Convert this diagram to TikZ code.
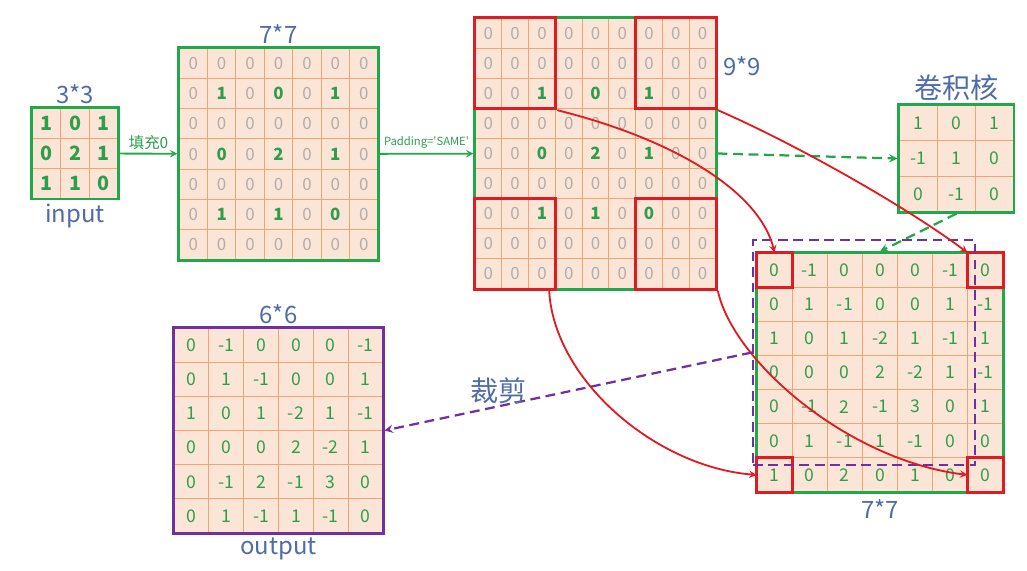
\documentclass[tikz,border=0pt]{standalone}
\usepackage{fontspec}
\setmainfont{Noto Sans CJK SC}
\usepackage{xcolor}
\usetikzlibrary{arrows,positioning,calc,fit}

\definecolor{cellfill}{HTML}{FBE5D6}
\definecolor{gridorange}{HTML}{F2A571}
\definecolor{matgreen}{HTML}{22A84A}
\definecolor{numgreen}{HTML}{2E9E4E}
\definecolor{zerogray}{HTML}{B3ACAC}
\definecolor{dimblue}{HTML}{4F6CA8}
\definecolor{cutred}{HTML}{E01B22}
\definecolor{cropviolet}{HTML}{7030A0}

\def\zmark{z}
\def\pxu{0.025cm}

% one matrix of cells: name, left, top, cell width, cell height, number style, rows (z = grey padding zero)
\newcommand{\cellgrid}[7]{%
  \foreach \row [count=\i] in {#7} {
    \foreach \v [count=\j] in \row {
      \edef\cellv{\v}
      \ifx\cellv\zmark
        \node[cell, zero, minimum width=#4*\pxu, minimum height=#5*\pxu] (#1-\i-\j) at ({#2+(\j-0.5)*#4}, {#3+(\i-0.5)*#5}) {0};
      \else
        \node[cell, #6, minimum width=#4*\pxu, minimum height=#5*\pxu] (#1-\i-\j) at ({#2+(\j-0.5)*#4}, {#3+(\i-0.5)*#5}) {\v};
      \fi
    }
  }
}

\begin{document}
\begin{tikzpicture}[
    x=0.025cm, y=-0.025cm,
    cell/.style={rectangle, draw=gridorange, line width=0.6pt, fill=cellfill, inner sep=0pt},
    zero/.style={text=zerogray, font=\fontsize{12}{12}\selectfont},
    boldnum/.style={text=numgreen, font=\fontsize{12}{12}\selectfont\bfseries},
    bignum/.style={text=numgreen, font=\fontsize{14}{14}\selectfont\bfseries},
    plainnum/.style={text=numgreen, font=\fontsize{12.5}{12.5}\selectfont},
    frame/.style={draw=matgreen, line width=1.6pt, inner sep=0pt},
    redbox/.style={draw=cutred, line width=2pt, inner sep=0pt},
    dim/.style={text=dimblue, font=\fontsize{17}{20}\selectfont, inner sep=1pt},
    cnlabel/.style={text=dimblue, font=\fontsize{20}{22}\selectfont, inner sep=1pt},
    flow/.style={->, >=stealth, draw=matgreen, line width=1.3pt},
    kernelflow/.style={->, >=stealth, draw=matgreen, line width=1.6pt, dash pattern=on 7pt off 4pt},
    cut/.style={->, >=stealth, draw=cutred, line width=1.3pt},
    crop/.style={->, >=stealth, draw=cropviolet, line width=1.6pt, dash pattern=on 7pt off 4pt}
]
\useasboundingbox (0,0) rectangle (1027,571);

% Input 3*3
\cellgrid{in}{32}{108}{28.7}{30.3}{bignum}{{1,0,1},{0,2,1},{1,1,0}}
\node[frame, fit=(in-1-1)(in-3-3)] (in) {};
\node[dim, above=1pt of in] (dimin) {3*3};
\node[dim, below=1pt of in] (inlabel) {input};

% Zero padded 7*7
\cellgrid{pad7}{179}{48}{28.43}{30.29}{boldnum}{%
  {z,z,z,z,z,z,z},{z,1,z,0,z,1,z},{z,z,z,z,z,z,z},{z,0,z,2,z,1,z},%
  {z,z,z,z,z,z,z},{z,1,z,1,z,0,z},{z,z,z,z,z,z,z}}
\node[frame, fit=(pad7-1-1)(pad7-7-7)] (pad7) {};
\node[dim, above=1pt of pad7] (dim7) {7*7};

% Padding SAME 9*9
\cellgrid{pad9}{475}{18}{26.78}{30.11}{boldnum}{%
  {z,z,z,z,z,z,z,z,z},{z,z,z,z,z,z,z,z,z},{z,z,1,z,0,z,1,z,z},%
  {z,z,z,z,z,z,z,z,z},{z,z,0,z,2,z,1,z,z},{z,z,z,z,z,z,z,z,z},%
  {z,z,1,z,1,z,0,z,z},{z,z,z,z,z,z,z,z,z},{z,z,z,z,z,z,z,z,z}}
\node[frame, fit=(pad9-1-1)(pad9-9-9)] (pad9) {};
\node[dim, anchor=west] (dim9) at ($(pad9-2-9.east)+(5,3)$) {9*9};

% Corner windows
\node[redbox, fit=(pad9-1-1)(pad9-3-3)] (tl) {};
\node[redbox, fit=(pad9-1-7)(pad9-3-9)] (tr) {};
\node[redbox, fit=(pad9-7-1)(pad9-9-3)] (bl) {};
\node[redbox, fit=(pad9-7-7)(pad9-9-9)] (br) {};

% Kernel
\cellgrid{ker}{899}{105}{38.3}{35.7}{plainnum}{{1,0,1},{-1,1,0},{0,-1,0}}
\node[frame, fit=(ker-1-1)(ker-3-3)] (ker) {};
\node[cnlabel, above=1pt of ker] (kerlabel) {卷积核};

% Convolution result 7*7
\cellgrid{res}{757}{253}{35.14}{34.14}{plainnum}{%
  {0,-1,0,0,0,-1,0},{0,1,-1,0,0,1,-1},{1,0,1,-2,1,-1,1},{0,0,0,2,-2,1,-1},%
  {0,-1,2,-1,3,0,1},{0,1,-1,1,-1,0,0},{1,0,2,0,1,0,0}}
\node[frame, fit=(res-1-1)(res-7-7)] (res) {};
\node[dim, below=3pt of res] (dimres) {7*7};
\node[redbox, fit=(res-1-1)] (r11) {};
\node[redbox, fit=(res-1-7)] (r17) {};
\node[redbox, fit=(res-7-1)] (r71) {};
\node[redbox, fit=(res-7-7)] (r77) {};
\node[draw=cropviolet, line width=1.6pt, dash pattern=on 7pt off 4pt, inner sep=0pt, fit={(753,240)(975,465)}] (cropbox) {};

% Output 6*6
\cellgrid{out}{174}{328}{34.83}{34.17}{plainnum}{%
  {0,-1,0,0,0,-1},{0,1,-1,0,0,1},{1,0,1,-2,1,-1},%
  {0,0,0,2,-2,1},{0,-1,2,-1,3,0},{0,1,-1,1,-1,0}}
\node[draw=cropviolet, line width=1.6pt, inner sep=0pt, fit=(out-1-1)(out-6-6)] (out) {};
\node[dim, above=1pt of out] (dimout) {6*6};
\node[dim, below=1pt of out] (outlabel) {output};

% Arrows
\draw[flow] (in) -- node[above, text=numgreen, font=\fontsize{11}{11}\selectfont, inner sep=2pt] {填充0} (pad7);
\draw[flow] (pad7) -- node[above, text=numgreen, font=\fontsize{8}{8}\selectfont, inner sep=3pt] {Padding=\textquotesingle SAME\textquotesingle} (pad9);
\draw[kernelflow] (pad9.east) -- (ker.west);
\draw[kernelflow] (ker.south) -- (res.north);

\draw[cut] (tl.south east) .. controls +(120,30) and +(-15,-60) .. (res-1-1.north);
\draw[cut] (tr.south east) .. controls +(80,35) and +(-60,-45) .. (res-1-7.north west);
\draw[cut] ($(bl.south east)+(-8,0)$) .. controls +(5,90) and +(-100,-8) .. (res-7-1.west);
\draw[cut] (br.south east) .. controls +(15,70) and +(-120,-15) .. (res-7-7.west);

\draw[crop] (cropbox.west) -- node[pos=0.69, above, cnlabel] {裁剪} (out.east);

\end{tikzpicture}
\end{document}
